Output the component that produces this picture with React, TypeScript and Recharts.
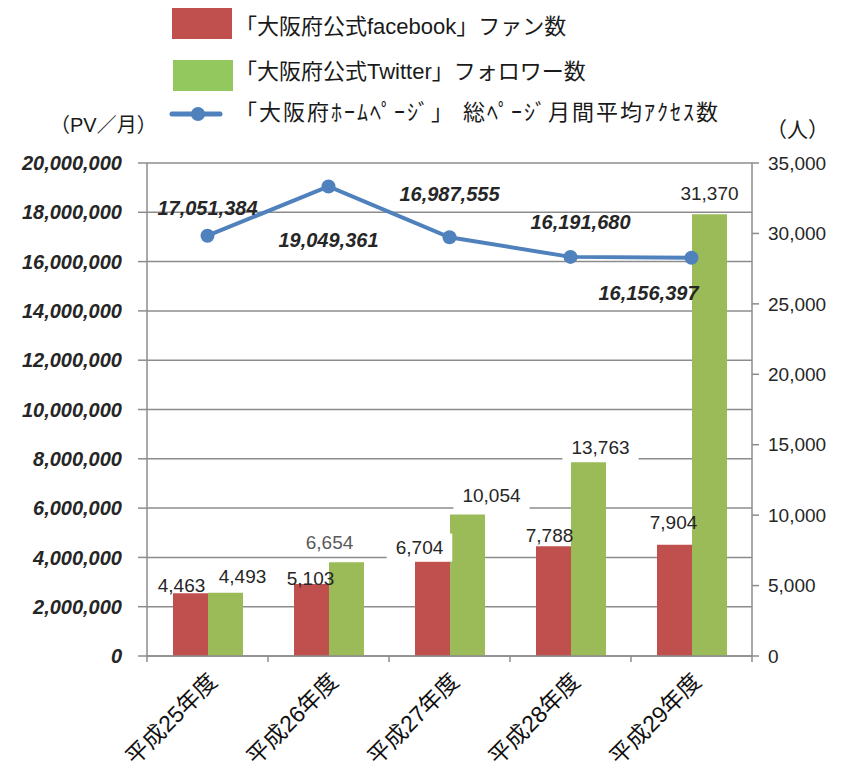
import { ComposedChart, Bar, Line, XAxis, YAxis, CartesianGrid, LabelList } from 'recharts';

const years = ['平成25年度', '平成26年度', '平成27年度', '平成28年度', '平成29年度'];
const facebookFans = [4463, 5103, 6704, 7788, 7904];
const twitterFollowers = [4493, 6654, 10054, 13763, 31370];
const monthlyPageViews = [17051384, 19049361, 16987555, 16191680, 16156397];
const pvTicks = [0, 2000000, 4000000, 6000000, 8000000, 10000000, 12000000, 14000000, 16000000, 18000000, 20000000];
const personTicks = [0, 5000, 10000, 15000, 20000, 25000, 30000, 35000];

const legendNames = [
  '「大阪府公式facebook」ファン数',
  '「大阪府公式Twitter」フォロワー数',
  '「大阪府ﾎｰﾑﾍﾟｰｼﾞ」 総ﾍﾟｰｼﾞ月間平均ｱｸｾｽ数',
];

const data = years.map((year, i) => ({
  year,
  facebook: facebookFans[i],
  twitter: twitterFollowers[i],
  pv: monthlyPageViews[i],
}));

// layout
const W = 850;
const H = 774;
const LEFT_W = 147;
const RIGHT_W = 98;
const PLOT_W = W - LEFT_W - RIGHT_W;
const FONT = '"Liberation Sans", Arial, "Noto Sans CJK JP", sans-serif';
const AXIS = '#8c8c8c';
const RED = '#C0504D';
const GREEN = '#9BBB59';
const BLUE = '#4F81BD';

// label nudges [dx, dy] from the default spot (bar top / point)
const fbNudge = [[-9, -8], [-1, -6], [-13, -14], [-4, -11], [-1, -22]];
const twNudge = [[17, -16], [-17, -20], [24, -19], [12, -15], [0, -21]];
const pvNudge = [[0, -28], [0, 54], [0, -43], [10, -35], [-43, 35]];
const fbBoxed = [false, false, true, false, false];
const twBoxed = [false, false, true, true, false];

const fmt = (v: number) => v.toLocaleString('en-US');

const textWidth = (s: string, fs: number) =>
  s.split('').reduce((w, c) => w + (c === ',' ? 0.278 : 0.556) * fs, 0);

function barLabel(nudge: number[][], boxed: boolean[], series: string) {
  return (props: any) => {
    const { x, y, width, value, index } = props;
    const [dx, dy] = nudge[index];
    const cx = Number(x) + Number(width) / 2 + dx;
    const cy = Number(y) + dy;
    const s = fmt(value);
    const tw = textWidth(s, 19) + 18;
    return (
      <g>
        {boxed[index] && <rect x={cx - tw / 2} y={cy - 14} width={tw} height={28} fill="#fff" />}
        <text x={cx} y={cy} textAnchor="middle" dominantBaseline="central" fontSize={19} fontFamily={FONT} fill={index === 1 && series === 'tw' ? '#5a5a5a' : '#262626'}>
          {s}
        </text>
      </g>
    );
  };
}

function pvLabel(props: any) {
  const { x, y, value, index } = props;
  const [dx, dy] = pvNudge[index];
  return (
    <text x={Number(x) + dx} y={Number(y) + dy} textAnchor="middle" dominantBaseline="central" fontSize={20} fontWeight="bold" fontStyle="italic" fontFamily={FONT} fill="#262626">
      {fmt(value)}
    </text>
  );
}

function YearTick(props: any) {
  const { x, y, payload, index } = props;
  const band = PLOT_W / years.length;
  const ax = x + 11;
  const ay = y + 27;
  return (
    <g>
      <line x1={x - band / 2} x2={x - band / 2} y1={y} y2={y + 6} stroke={AXIS} strokeWidth={1.5} />
      {index === years.length - 1 && (
        <line x1={x + band / 2} x2={x + band / 2} y1={y} y2={y + 6} stroke={AXIS} strokeWidth={1.5} />
      )}
      <text x={ax} y={ay} transform={`rotate(-45 ${ax} ${ay})`} textAnchor="end" fontSize={23} fontFamily={FONT} fill="#111">
        {payload.value}
      </text>
    </g>
  );
}

function LegendOverlay() {
  const rowText = { position: 'absolute' as const, left: 235, fontSize: 22, fontFamily: FONT, color: '#1a1a1a', whiteSpace: 'nowrap' as const, lineHeight: '24px' };
  return (
    <>
      <div style={{ position: 'absolute', left: 172, top: 8, width: 60, height: 31, background: RED }} />
      <div style={{ ...rowText, top: 15 }}>{legendNames[0]}</div>
      <div style={{ position: 'absolute', left: 173, top: 60, width: 60, height: 31, background: '#92C85E' }} />
      <div style={{ ...rowText, top: 60 }}>{legendNames[1]}</div>
      <svg style={{ position: 'absolute', left: 168, top: 104 }} width={60} height={20}>
        <line x1={4} x2={52} y1={10} y2={10} stroke={BLUE} strokeWidth={5} strokeLinecap="round" />
        <circle cx={30} cy={10} r={7} fill={BLUE} />
      </svg>
      <div style={{ ...rowText, top: 101, letterSpacing: 2 }}>{legendNames[2]}</div>
      <div style={{ position: 'absolute', left: 50, top: 112, fontSize: 20, fontFamily: FONT, color: '#1a1a1a', lineHeight: '26px' }}>（PV／月）</div>
      <div style={{ position: 'absolute', left: 766, top: 117, fontSize: 21, fontFamily: FONT, color: '#1a1a1a', lineHeight: '26px' }}>（人）</div>
    </>
  );
}

export default function App() {
  return (
    <div style={{ position: 'relative', width: W, height: H, background: '#fff' }}>
      <style>{'body{margin:0}'}</style>
      <ComposedChart width={W} height={H} data={data} margin={{ top: 163, right: 0, bottom: 0, left: 0 }} barGap={0}>
        <CartesianGrid yAxisId="left" vertical={false} stroke={AXIS} strokeWidth={1.5} />
        <XAxis
          dataKey="year"
          height={118}
          interval={0}
          tickLine={false}
          tickSize={0}
          tickMargin={0}
          axisLine={{ stroke: AXIS, strokeWidth: 1.5 }}
          tick={<YearTick />}
        />
        <YAxis
          yAxisId="left"
          width={LEFT_W}
          domain={[0, 20000000]}
          ticks={pvTicks}
          tickFormatter={fmt}
          tickSize={9}
          tickMargin={16}
          axisLine={{ stroke: AXIS, strokeWidth: 1.5 }}
          tickLine={{ stroke: AXIS, strokeWidth: 1.5 }}
          tick={{ fontSize: 20, fontWeight: 'bold', fontStyle: 'italic', fontFamily: FONT, fill: '#262626' }}
        />
        <YAxis
          yAxisId="right"
          orientation="right"
          width={RIGHT_W}
          domain={[0, 35000]}
          ticks={personTicks}
          tickFormatter={fmt}
          tickSize={7}
          tickMargin={9}
          axisLine={{ stroke: AXIS, strokeWidth: 1.5 }}
          tickLine={{ stroke: AXIS, strokeWidth: 1.5 }}
          tick={{ fontSize: 19, fontFamily: FONT, fill: '#262626' }}
        />
        <Bar yAxisId="right" dataKey="facebook" name={legendNames[0]} fill={RED} barSize={35} isAnimationActive={false}>
          <LabelList dataKey="facebook" content={barLabel(fbNudge, fbBoxed, 'fb')} />
        </Bar>
        <Bar yAxisId="right" dataKey="twitter" name={legendNames[1]} fill={GREEN} barSize={35} isAnimationActive={false}>
          <LabelList dataKey="twitter" content={barLabel(twNudge, twBoxed, 'tw')} />
        </Bar>
        <Line
          yAxisId="left"
          dataKey="pv"
          name={legendNames[2]}
          stroke={BLUE}
          strokeWidth={4}
          dot={{ r: 7, fill: BLUE, stroke: BLUE, strokeWidth: 0 }}
          isAnimationActive={false}
        >
          <LabelList dataKey="pv" content={pvLabel} />
        </Line>
      </ComposedChart>
      <LegendOverlay />
    </div>
  );
}
